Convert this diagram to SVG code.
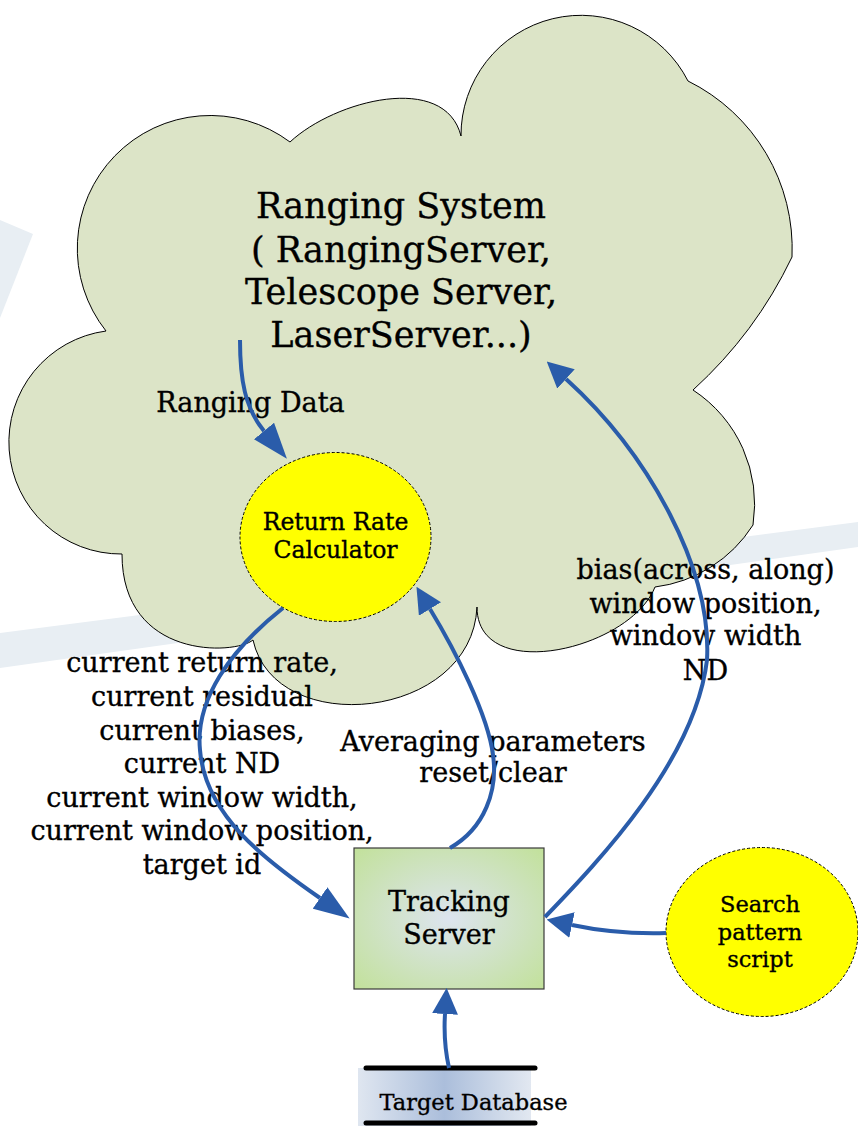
<svg xmlns="http://www.w3.org/2000/svg" width="858" height="1126" viewBox="0 0 858 1126">
  <style>
    text { font-family: "DejaVu Serif", "Liberation Serif", serif; fill: #000; stroke: #000; stroke-width: 0.35; text-anchor: middle; }
    .title { font-size: 35px; }
    .lbl { font-size: 27px; }
    .rrc { font-size: 23.5px; }
    .trk { font-size: 27px; }
    .srch { font-size: 22.5px; }
    .db { font-size: 22.5px; }
    .wm { fill: #e8eef3; }
    .cloud { fill: #dce4c7; stroke: #000; stroke-width: 1; }
    .proc { fill: #ffff00; stroke: #000; stroke-width: 1; stroke-dasharray: 3 2; }
    .conn { fill: none; stroke: #2a5caa; stroke-width: 4; }
    .bar { stroke: #000; stroke-width: 5; stroke-linecap: round; }
  </style>
  <defs>
    <marker id="ahBig" viewBox="0 -13 36 26" refX="0" refY="0" markerWidth="36" markerHeight="26" markerUnits="userSpaceOnUse" orient="auto">
      <path d="M0,-13 L36,0 L0,13 Z" fill="#2a5caa"/>
    </marker>
    <marker id="ahSmall" viewBox="0 -13 26 26" refX="0" refY="0" markerWidth="26" markerHeight="26" markerUnits="userSpaceOnUse" orient="auto">
      <path d="M0,-13 L26,0 L0,13 Z" fill="#2a5caa"/>
    </marker>
    <radialGradient id="trkGrad" cx="50%" cy="50%" r="70%">
      <stop offset="0" stop-color="#dde4ef"/>
      <stop offset="1" stop-color="#c2e19b"/>
    </radialGradient>
    <linearGradient id="dbGrad" x1="0" y1="0" x2="1" y2="0">
      <stop offset="0" stop-color="#dfe6f0"/>
      <stop offset="0.5" stop-color="#abbedb"/>
      <stop offset="1" stop-color="#e2e8f1"/>
    </linearGradient>
  </defs>

  <g id="watermark">
    <polygon class="wm" points="0,220 33,234 0,318"/>
    <polygon class="wm" points="0,633 858,522 858,547 0,668"/>
  </g>

  <g id="ranging-system">
    <path class="cloud" d="M290,142 C335,100 445,72 461,136 A120,120 0 0 1 688,81 A187,187 0 0 1 792,257 A430,430 0 0 1 693,390 A136,136 0 0 1 753,525 A136,136 0 0 1 655,587 C630,650 477,685 477,607 C472,720 275,740 253,640 C235,655 122,660 122,554 A112,112 0 0 1 106,331 A133,133 0 0 1 290,142 Z"/>
    <text class="title" x="401" y="218">Ranging System</text>
    <text class="title" x="401" y="261.5">( RangingServer,</text>
    <text class="title" x="401" y="303.5">Telescope Server,</text>
    <text class="title" x="401" y="346.5">LaserServer...)</text>
  </g>

  <g id="return-rate-calculator">
    <ellipse class="proc" cx="335.5" cy="537" rx="95.5" ry="84.5"/>
    <text class="rrc" x="335.5" y="530">Return Rate</text>
    <text class="rrc" x="335.5" y="558">Calculator</text>
  </g>

  <g id="tracking-server">
    <rect x="354" y="848" width="190" height="141" fill="url(#trkGrad)" stroke="#3a3a3a" stroke-width="1.2"/>
    <text class="trk" x="449" y="911">Tracking</text>
    <text class="trk" x="449" y="944">Server</text>
  </g>

  <g id="search-pattern-script">
    <ellipse class="proc" cx="762" cy="932" rx="96" ry="84.5"/>
    <text class="srch" x="760" y="912">Search</text>
    <text class="srch" x="760" y="940">pattern</text>
    <text class="srch" x="760" y="967">script</text>
  </g>

  <g id="target-database">
    <rect x="358" y="1068" width="173" height="58" fill="url(#dbGrad)"/>
    <line class="bar" x1="366" y1="1068" x2="535" y2="1068"/>
    <line class="bar" x1="366" y1="1123" x2="535" y2="1123"/>
    <text class="db" x="473.5" y="1110">Target Database</text>
  </g>

  <g id="labels">
    <text class="lbl" x="250.5" y="412">Ranging Data</text>
    <text class="lbl" x="202" y="672">current return rate,</text>
    <text class="lbl" x="202" y="706">current residual</text>
    <text class="lbl" x="202" y="740">current biases,</text>
    <text class="lbl" x="202" y="773">current ND</text>
    <text class="lbl" x="202" y="807">current window width,</text>
    <text class="lbl" x="202" y="840">current window position,</text>
    <text class="lbl" x="202" y="874">target id</text>
    <text class="lbl" x="493" y="751">Averaging parameters</text>
    <text class="lbl" x="493" y="782">reset/clear</text>
    <text class="lbl" x="705.5" y="579">bias(across, along)</text>
    <text class="lbl" x="705.5" y="613">window position,</text>
    <text class="lbl" x="705.5" y="645">window width</text>
    <text class="lbl" x="705.5" y="680">ND</text>
  </g>

  <g id="connectors">
    <path class="conn" marker-end="url(#ahBig)" d="M240,340 C240,380 245,408 264,431"/>
    <path class="conn" marker-end="url(#ahBig)" d="M283,608 C230,650 195,700 200,750 C205,815 265,860 320,898"/>
    <path class="conn" marker-end="url(#ahSmall)" d="M450,848 C485,828 498,790 493,755 C488,715 455,650 430,609"/>
    <path class="conn" marker-end="url(#ahSmall)" d="M545,917 C600,860 695,760 707,660 C712,570 650,455 566,379"/>
    <path class="conn" marker-end="url(#ahSmall)" d="M666,933 C630,934 600,931 572,925"/>
    <path class="conn" marker-end="url(#ahSmall)" d="M449,1068 C445,1050 444,1030 445,1014"/>
  </g>
</svg>
